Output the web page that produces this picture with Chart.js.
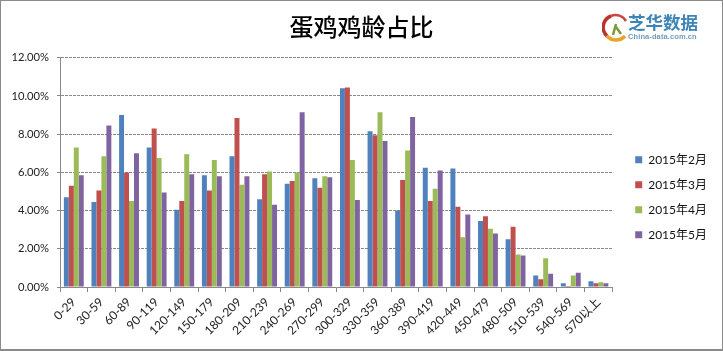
<!DOCTYPE html>
<html><head><meta charset="utf-8">
<script src="https://cdn.jsdelivr.net/npm/chart.js@4"></script>
<style>
html,body{margin:0;padding:0;background:#fff;width:723px;height:351px;overflow:hidden}
#wrap{position:relative;width:723px;height:351px}
#frame{position:absolute;left:0;top:0;width:721px;height:348px;border:1px solid #8a8a8a;border-width:1px 1px 2px 1px;box-sizing:content-box;pointer-events:none}
#logo{position:absolute;left:600px;top:10px;width:120px;height:34px}
#l1{position:absolute;left:28px;top:-1px;font:700 17.5px "Noto Sans CJK SC";color:#3d85b5;white-space:nowrap;line-height:26px}
#l2{position:absolute;left:28px;top:23px;font:700 7.5px "Liberation Sans";color:#6f9cbd;white-space:nowrap;line-height:8px;letter-spacing:.1px}
svg{position:absolute;left:2px;top:3px}
</style></head><body>
<div id="wrap">
<canvas id="c" width="723" height="351"></canvas>
<div id="frame"></div>
<div id="logo">
<svg width="28" height="30" viewBox="0 0 28 30">
<path d="M9 3 A12 12 0 0 0 5 23" fill="none" stroke="#b8352f" stroke-width="3.5"/>
<path d="M5 23 A12 12 0 0 0 23 23" fill="none" stroke="#e8a52c" stroke-width="3.5"/>
<path d="M9 3 A12 12 0 0 1 24 8" fill="none" stroke="#c9483a" stroke-width="2.5"/>
<path d="M14 11 L11 22 M14 14 L19 21" stroke="#7b9a3a" stroke-width="2.5" fill="none"/>
</svg>
<div id="l1">芝华数据</div>
<div id="l2">China-data.com.cn</div>
</div>
</div>
<script>
const categories=["0-29","30-59","60-89","90-119","120-149","150-179","180-209","210-239","240-269","270-299","300-329","330-359","360-389","390-419","420-449","450-479","480-509","510-539","540-569","570以上"];
const feb=[4.7,4.45,9.0,7.3,4.05,5.85,6.85,4.6,5.4,5.7,10.4,8.15,4.0,6.25,6.2,3.45,2.5,0.6,0.2,0.3];
const mar=[5.3,5.05,6.0,8.3,4.5,5.05,8.85,5.9,5.55,5.2,10.45,7.95,5.6,4.5,4.2,3.7,3.15,0.4,0.05,0.2];
const apr=[7.3,6.85,4.5,6.75,6.95,6.65,5.35,6.05,6.0,5.8,6.65,9.15,7.15,5.15,2.6,3.05,1.7,1.5,0.6,0.25];
const may=[5.85,8.45,7.0,4.95,5.9,5.8,5.8,4.3,9.15,5.75,4.55,7.65,8.9,6.1,3.8,2.8,1.65,0.7,0.75,0.2];
const seriesNames=["2015年2月","2015年3月","2015年4月","2015年5月"];
const colors=["#4f81bd","#c0504d","#9bbb59","#8064a2"];
const titleText="蛋鸡鸡龄占比";
const FONT='Lato,"Noto Sans CJK SC"';
const vals=[feb,mar,apr,may];
new Chart(document.getElementById('c'),{
 type:'bar',
 data:{labels:categories,datasets:vals.map((d,i)=>({label:seriesNames[i],data:d,backgroundColor:colors[i],barPercentage:1,categoryPercentage:.72}))},
 options:{
  responsive:false,animation:false,
  layout:{padding:{left:6,right:6,top:0,bottom:0}},
  plugins:{
   title:{display:true,text:titleText,font:{family:'"Noto Sans CJK SC"',size:24,weight:'500'},color:'#000',padding:{top:12,bottom:17}},
   legend:{position:'right',align:'center',title:{display:true,text:' ',padding:14.5,font:{size:12}},labels:{boxWidth:7,boxHeight:7,padding:13,color:'#111',font:{family:FONT,size:12}}},
   tooltip:{enabled:false}
  },
  scales:{
   x:{offset:true,afterFit:a=>{a.height=64},grid:{display:true,drawOnChartArea:false,drawTicks:true,tickLength:5,color:'#888',offset:true},border:{color:'#888'},
      ticks:{autoSkip:false,minRotation:45,maxRotation:45,padding:3,color:'#222',font:{family:FONT,size:12}}},
   y:{min:0,max:12,afterFit:a=>{a.width=54},grid:{color:'#888',tickLength:3,lineWidth:1},border:{color:'#888',dash:[3,1]},
      ticks:{stepSize:2,callback:v=>v.toFixed(2)+'%',padding:8,color:'#222',font:{family:FONT,size:11.2}}},
   spacer:{position:'right',afterFit:a=>{a.width=10},grid:{display:false},border:{display:false},ticks:{display:false}}
  }
 }
});
</script>
</body></html>
